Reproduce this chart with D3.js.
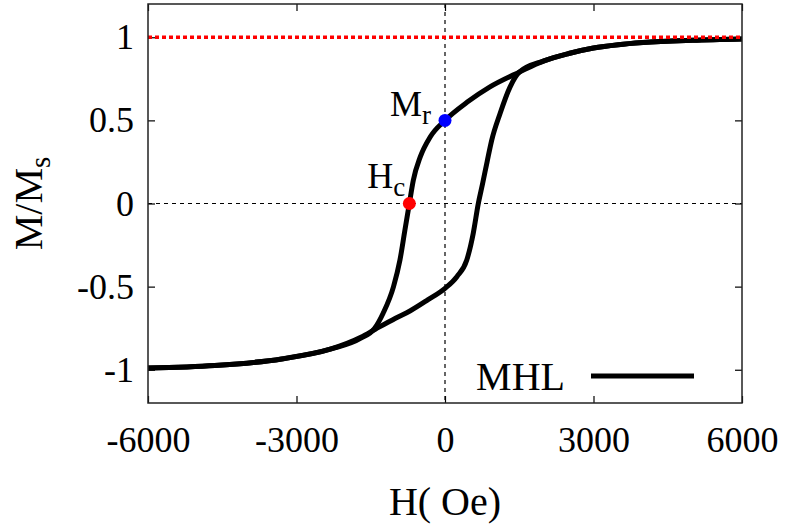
<!DOCTYPE html>
<head>
    <meta charset="utf-8">
    <title>Hysteresis Loop</title>
    <script type="text/javascript" src="https://d3js.org/d3.v7.min.js"></script>
    <style>
        body { margin: 0; background: #fff; }
        svg text { font-family: "Liberation Serif", "Times New Roman", serif; fill: #000; }
    </style>
</head>
<body>
    <div id="container"></div>

<script>
    //-----------------------------DATA-----------------------------//
    // descending branch (coming down from +H), listed in increasing H
    const upperH = [-6000, -4650, -3300, -2300, -1700, -1420, -1250, -1040, -910, -810, -720, -640, -500, -300, 0, 450, 900, 1500, 2000, 2500, 3000, 3500, 4000, 5000, 6000];
    const upperM = [-0.99, -0.975, -0.935, -0.875, -0.81, -0.75, -0.66, -0.50, -0.34, -0.16, 0, 0.14, 0.28, 0.40, 0.50, 0.61, 0.70, 0.79, 0.858, 0.902, 0.935, 0.955, 0.968, 0.982, 0.99];
    // ascending branch (coming up from -H)
    const lowerH = [-6000, -4650, -3300, -2300, -1700, -1400, -1000, -700, -350, 0, 240, 440, 570, 673, 760, 850, 943, 1111, 1313, 1500, 2000, 2500, 3000, 3500, 4000, 5000, 6000];
    const lowerM = [-0.99, -0.975, -0.935, -0.875, -0.805, -0.755, -0.69, -0.645, -0.58, -0.51, -0.44, -0.34, -0.18, 0, 0.12, 0.25, 0.38, 0.54, 0.70, 0.79, 0.858, 0.902, 0.935, 0.955, 0.968, 0.982, 0.99];

    const xTicks = [-6000, -3000, 0, 3000, 6000];
    const yTicks = [-1, -0.5, 0, 0.5, 1];
    const satLevel = 1;
    const coercive = { H: -720, M: 0, label: "H", sub: "c" };
    const remanent = { H: 0, M: 0.5, label: "M", sub: "r" };
    const legendLabel = "MHL";

    //-----------------------------SVG------------------------------//
    const width = 791;
    const height = 528;
    const margin = { left: 148, right: 49, top: 4, bottom: 125 };
    const w = width - margin.left - margin.right;
    const h = height - margin.top - margin.bottom;
    const serif = "'Liberation Serif', 'Times New Roman', serif";

    const svg = d3.select("div#container").append("svg")
        .attr("width", width)
        .attr("height", height)
        .attr("font-family", serif);

    const g = svg.append("g")
        .attr("transform", "translate(" + margin.left + "," + margin.top + ")");

    //----------------------------SCALES----------------------------//
    const xScale = d3.scaleLinear().domain([-6000, 6000]).range([0, w]);
    const yScale = d3.scaleLinear().domain([-1.2, 1.2]).range([h, 0]);

    //-----------------------------AXES-----------------------------//
    const fs = 36;
    const big = 40;
    const plain = d => String(d);

    g.append("g")
        .attr("transform", "translate(0," + h + ")")
        .call(d3.axisBottom(xScale).tickValues(xTicks).tickSize(-7).tickPadding(23).tickFormat(plain));
    g.append("g")
        .call(d3.axisTop(xScale).tickValues(xTicks).tickSize(-7).tickFormat(""));
    g.append("g")
        .call(d3.axisLeft(yScale).tickValues(yTicks).tickSize(-7).tickPadding(14).tickFormat(plain));
    g.append("g")
        .attr("transform", "translate(" + w + ",0)")
        .call(d3.axisRight(yScale).tickValues(yTicks).tickSize(-7).tickFormat(""));

    g.selectAll(".domain").remove();
    g.selectAll("g").attr("font-family", serif);
    g.selectAll(".tick line").attr("stroke", "#000").attr("stroke-width", 1.2);
    g.selectAll(".tick text").style("font-size", fs + "px").attr("fill", "#000");

    // zero lines
    g.append("line")
        .attr("x1", xScale(0)).attr("x2", xScale(0))
        .attr("y1", 0).attr("y2", h)
        .attr("stroke", "#000").attr("stroke-width", 1.2)
        .attr("stroke-dasharray", "4,4");
    g.append("line")
        .attr("x1", 0).attr("x2", w)
        .attr("y1", yScale(0)).attr("y2", yScale(0))
        .attr("stroke", "#000").attr("stroke-width", 1.2)
        .attr("stroke-dasharray", "4,4");

    //----------------------------LINES-----------------------------//
    const line = d3.line()
        .x(d => xScale(d[0]))
        .y(d => yScale(d[1]))
        .curve(d3.curveMonotoneX);

    const branches = [
        d3.zip(upperH, upperM),
        d3.zip(lowerH, lowerM)
    ];

    g.selectAll("path.branch")
        .data(branches)
        .enter()
        .append("path")
        .attr("class", "branch")
        .attr("d", line)
        .attr("fill", "none")
        .attr("stroke", "#000")
        .attr("stroke-width", 5)
        .attr("stroke-linejoin", "round");

    // saturation line
    g.append("line")
        .attr("x1", 0).attr("x2", w)
        .attr("y1", yScale(satLevel)).attr("y2", yScale(satLevel))
        .attr("stroke", "#ff0000").attr("stroke-width", 3.5)
        .attr("stroke-dasharray", "4,3");

    //---------------------------POINTS-----------------------------//
    const marks = [
        Object.assign({ color: "#ff0000", dx: -42, dy: -16 }, coercive),
        Object.assign({ color: "#0000ff", dx: -55, dy: -4 }, remanent)
    ];

    g.selectAll("circle.mark")
        .data(marks)
        .enter()
        .append("circle")
        .attr("class", "mark")
        .attr("cx", d => xScale(d.H))
        .attr("cy", d => yScale(d.M))
        .attr("r", 6.5)
        .attr("fill", d => d.color);

    const lbl = g.selectAll("text.mark")
        .data(marks)
        .enter()
        .append("text")
        .attr("class", "mark")
        .attr("x", d => xScale(d.H) + d.dx)
        .attr("y", d => yScale(d.M) + d.dy)
        .style("font-size", fs + "px");
    lbl.append("tspan").text(d => d.label);
    lbl.append("tspan").attr("dy", 8).style("font-size", "27px").text(d => d.sub);

    //---------------------------BORDER-----------------------------//
    g.append("rect")
        .attr("width", w).attr("height", h)
        .attr("fill", "none")
        .attr("stroke", "#222").attr("stroke-width", 1.5);

    //---------------------------LEGEND-----------------------------//
    g.append("text")
        .attr("x", 417)
        .attr("y", 386)
        .attr("text-anchor", "end")
        .style("font-size", big + "px")
        .text(legendLabel);
    g.append("line")
        .attr("x1", 443).attr("x2", 546)
        .attr("y1", 372).attr("y2", 372)
        .attr("stroke", "#000").attr("stroke-width", 5);

    //---------------------------LABELS-----------------------------//
    svg.append("text")
        .attr("x", margin.left + w / 2)
        .attr("y", 515)
        .attr("text-anchor", "middle")
        .style("font-size", big + "px")
        .text("H( Oe)");

    const yl = svg.append("text")
        .attr("transform", "translate(42," + (margin.top + h / 2) + ") rotate(-90)")
        .attr("text-anchor", "middle")
        .style("font-size", big + "px");
    yl.append("tspan").text("M/M");
    yl.append("tspan").attr("dy", 8).style("font-size", "29px").text("s");
</script>
</body>
